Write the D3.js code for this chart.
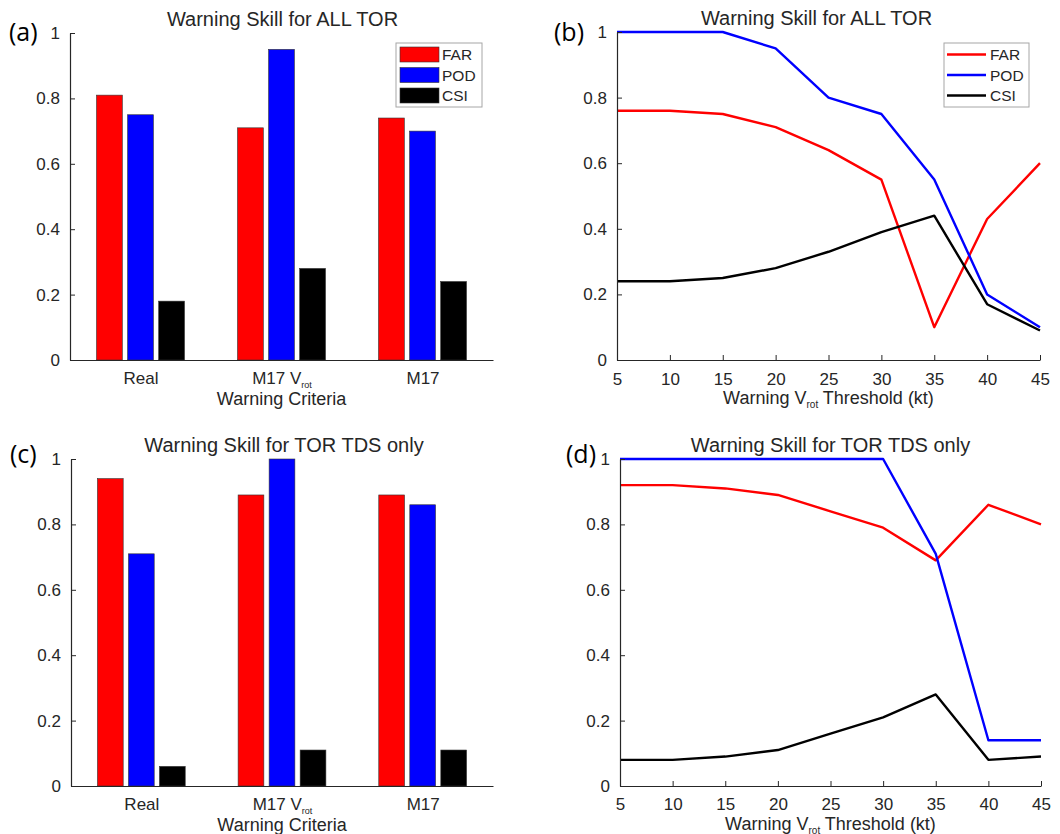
<!DOCTYPE html>
<html>
<head>
<meta charset="utf-8">
<script src="https://cdn.jsdelivr.net/npm/d3@7"></script>
<style>
  body { margin: 0; background: #fff; }
  text { font-family: "Liberation Sans", Arial, sans-serif; fill: #262626; }
  .panel-label { font-family: "Open Sans", sans-serif; fill: #000; }
  .axis path, .axis line { stroke: #262626; }
</style>
</head>
<body>
<svg id="chart" width="1060" height="834"></svg>
<script>
// series / categories
var seriesNames = ["FAR", "POD", "CSI"];
var seriesColors = ["#ff0000", "#0000ff", "#000000"];
var criteria = ["Real", "M17 V|rot", "M17"];
var thresholds = [5, 10, 15, 20, 25, 30, 35, 40, 45];
var yTicks = [0, 0.2, 0.4, 0.6, 0.8, 1];

// (a) all tornadoes, by warning criteria
var allFAR = [0.81, 0.71, 0.74];
var allPOD = [0.75, 0.95, 0.70];
var allCSI = [0.18, 0.28, 0.24];

// (b) all tornadoes, by Vrot threshold
var allFARbyVrot = [0.76, 0.76, 0.75, 0.71, 0.64, 0.55, 0.10, 0.43, 0.60];
var allPODbyVrot = [1.00, 1.00, 1.00, 0.95, 0.80, 0.75, 0.55, 0.20, 0.10];
var allCSIbyVrot = [0.24, 0.24, 0.25, 0.28, 0.33, 0.39, 0.44, 0.17, 0.09];

// (c) TDS only, by warning criteria
var tdsFAR = [0.94, 0.89, 0.89];
var tdsPOD = [0.71, 1.00, 0.86];
var tdsCSI = [0.06, 0.11, 0.11];

// (d) TDS only, by Vrot threshold
var tdsFARbyVrot = [0.92, 0.92, 0.91, 0.89, 0.84, 0.79, 0.69, 0.86, 0.80];
var tdsPODbyVrot = [1.00, 1.00, 1.00, 1.00, 1.00, 1.00, 0.71, 0.14, 0.14];
var tdsCSIbyVrot = [0.08, 0.08, 0.09, 0.11, 0.16, 0.21, 0.28, 0.08, 0.09];

var svg = d3.select("#chart");

function fmtY(d) {
  if (d === 0) return "0";
  if (d === 1) return "1";
  return d.toFixed(1);
}

// write "text|sub" as text with a subscript tspan
function subText(sel, str) {
  var parts = str.split("|");
  sel.text(null);
  sel.append("tspan").text(parts[0]);
  if (parts.length > 1) {
    sel.append("tspan").attr("dy", 3.5).attr("font-size", 9).text(parts[1]);
  }
}

function drawYAxis(g, y) {
  var ax = g.append("g")
    .attr("class", "axis")
    .call(d3.axisLeft(y).tickValues(yTicks).tickFormat(fmtY).tickSizeInner(-5).tickSizeOuter(0).tickPadding(10));
  ax.attr("font-size", 17).attr("font-family", null);
  ax.select(".domain").attr("stroke-width", 1.2);
  ax.selectAll("text").attr("font-size", 17).attr("fill", "#262626");
  return ax;
}

function drawTitle(g, box, title, titleShift, label, labelX, labelY) {
  g.append("text")
    .attr("x", (box.left + box.right) / 2 + titleShift)
    .attr("y", box.top - 7.5)
    .attr("text-anchor", "middle")
    .attr("font-size", 20)
    .text(title);
  g.append("text")
    .attr("class", "panel-label")
    .attr("x", labelX)
    .attr("y", labelY)
    .attr("font-size", 25)
    .text(label);
}

function drawBarPanel(box, values, title, titleShift, label, labelX, labelY) {
  var g = svg.append("g");
  var x = d3.scaleLinear().domain([0.5, 3.5]).range([box.left, box.right]);
  var y = d3.scaleLinear().domain([0, 1]).range([box.bottom, box.top]);
  var unit = x(2) - x(1);
  var x1 = d3.scaleBand().domain(seriesNames)
    .range([-0.312 * unit, 0.312 * unit]).paddingInner(0.17).paddingOuter(0);

  criteria.forEach(function(c, i) {
    seriesNames.forEach(function(s, j) {
      var v = values[j][i];
      g.append("rect")
        .attr("x", x(i + 1) + x1(s))
        .attr("y", y(v))
        .attr("width", x1.bandwidth())
        .attr("height", y(0) - y(v))
        .attr("fill", seriesColors[j])
        .attr("stroke", "#333")
        .attr("stroke-width", 0.6);
    });
  });

  var xa = g.append("g")
    .attr("class", "axis")
    .attr("transform", "translate(0," + box.bottom + ")")
    .call(d3.axisBottom(x).tickValues([1, 2, 3]).tickSizeInner(0).tickSizeOuter(0).tickPadding(12));
  xa.attr("font-size", 17).attr("font-family", null);
  xa.select(".domain").attr("stroke-width", 1.2);
  xa.selectAll("text").attr("font-size", 17).attr("fill", "#262626")
    .each(function(d) { subText(d3.select(this), criteria[d - 1]); });

  g.append("g").attr("transform", "translate(" + box.left + ",0)").call(function(sel) { drawYAxis(sel, y); });

  g.append("text")
    .attr("x", x(2))
    .attr("y", box.bottom + 44.5)
    .attr("text-anchor", "middle")
    .attr("font-size", 18)
    .text("Warning Criteria");

  drawTitle(g, box, title, titleShift, label, labelX, labelY);
  return g;
}

function drawLinePanel(box, values, title, titleShift, label, labelX, labelY, tickPad, xlabelGap) {
  var g = svg.append("g");
  var x = d3.scaleLinear().domain([5, 45]).range([box.left, box.right]);
  var y = d3.scaleLinear().domain([0, 1]).range([box.bottom, box.top]);

  var line = d3.line()
    .x(function(d, i) { return x(thresholds[i]); })
    .y(function(d) { return y(d); });

  values.forEach(function(vals, j) {
    g.append("path")
      .datum(vals)
      .attr("d", line)
      .attr("fill", "none")
      .attr("stroke", seriesColors[j])
      .attr("stroke-width", 2.4)
      .attr("stroke-linejoin", "round");
  });

  var xa = g.append("g")
    .attr("class", "axis")
    .attr("transform", "translate(0," + box.bottom + ")")
    .call(d3.axisBottom(x).tickValues(thresholds).tickSizeInner(-5).tickSizeOuter(0).tickPadding(tickPad));
  xa.attr("font-size", 17).attr("font-family", null);
  xa.select(".domain").attr("stroke-width", 1.2);
  xa.selectAll("text").attr("font-size", 17).attr("fill", "#262626");

  g.append("g").attr("transform", "translate(" + box.left + ",0)").call(function(sel) { drawYAxis(sel, y); });

  var xl = g.append("text")
    .attr("x", (box.left + box.right) / 2)
    .attr("y", box.bottom + xlabelGap)
    .attr("text-anchor", "middle")
    .attr("font-size", 18);
  xl.append("tspan").text("Warning V");
  xl.append("tspan").attr("dy", 4).attr("font-size", 10).text("rot");
  xl.append("tspan").attr("dy", -4).text(" Threshold (kt)");

  drawTitle(g, box, title, titleShift, label, labelX, labelY);
  return g;
}

function drawLegend(g, x0, y0, kind) {
  var lg = g.append("g").attr("transform", "translate(" + x0 + "," + y0 + ")");
  var w = kind === "bar" ? 86 : 85;
  lg.append("rect")
    .attr("width", w).attr("height", 64)
    .attr("fill", "#fff").attr("stroke", "#a6a6a6").attr("stroke-width", 1);
  seriesNames.forEach(function(s, j) {
    var cy = 11.5 + j * 20.5;
    if (kind === "bar") {
      lg.append("rect")
        .attr("x", 4).attr("y", cy - 7.5)
        .attr("width", 39).attr("height", 15)
        .attr("fill", seriesColors[j]).attr("stroke", "#333").attr("stroke-width", 0.6);
    } else {
      lg.append("line")
        .attr("x1", 3).attr("x2", 42).attr("y1", cy).attr("y2", cy)
        .attr("stroke", seriesColors[j]).attr("stroke-width", 2.4);
    }
    lg.append("text").attr("x", 46).attr("y", cy + 5.5).attr("font-size", 15.5).text(s);
  });
}

var ga = drawBarPanel({ left: 70, right: 493, top: 33, bottom: 360 },
  [allFAR, allPOD, allCSI], "Warning Skill for ALL TOR", 1, "(a)", 9, 41);
drawLegend(ga, 396, 43, "bar");

var gb = drawLinePanel({ left: 617, right: 1040, top: 32, bottom: 360 },
  [allFARbyVrot, allPODbyVrot, allCSIbyVrot], "Warning Skill for ALL TOR", -12, "(b)", 554, 41, 13, 43.5);
drawLegend(gb, 944, 43, "line");

drawBarPanel({ left: 71, right: 493, top: 459, bottom: 786 },
  [tdsFAR, tdsPOD, tdsCSI], "Warning Skill for TOR TDS only", 2, "(c)", 10, 463);

drawLinePanel({ left: 620, right: 1041, top: 459, bottom: 786 },
  [tdsFARbyVrot, tdsPODbyVrot, tdsCSIbyVrot], "Warning Skill for TOR TDS only", 0, "(d)", 566, 463, 12, 43.5);
</script>
</body>
</html>
